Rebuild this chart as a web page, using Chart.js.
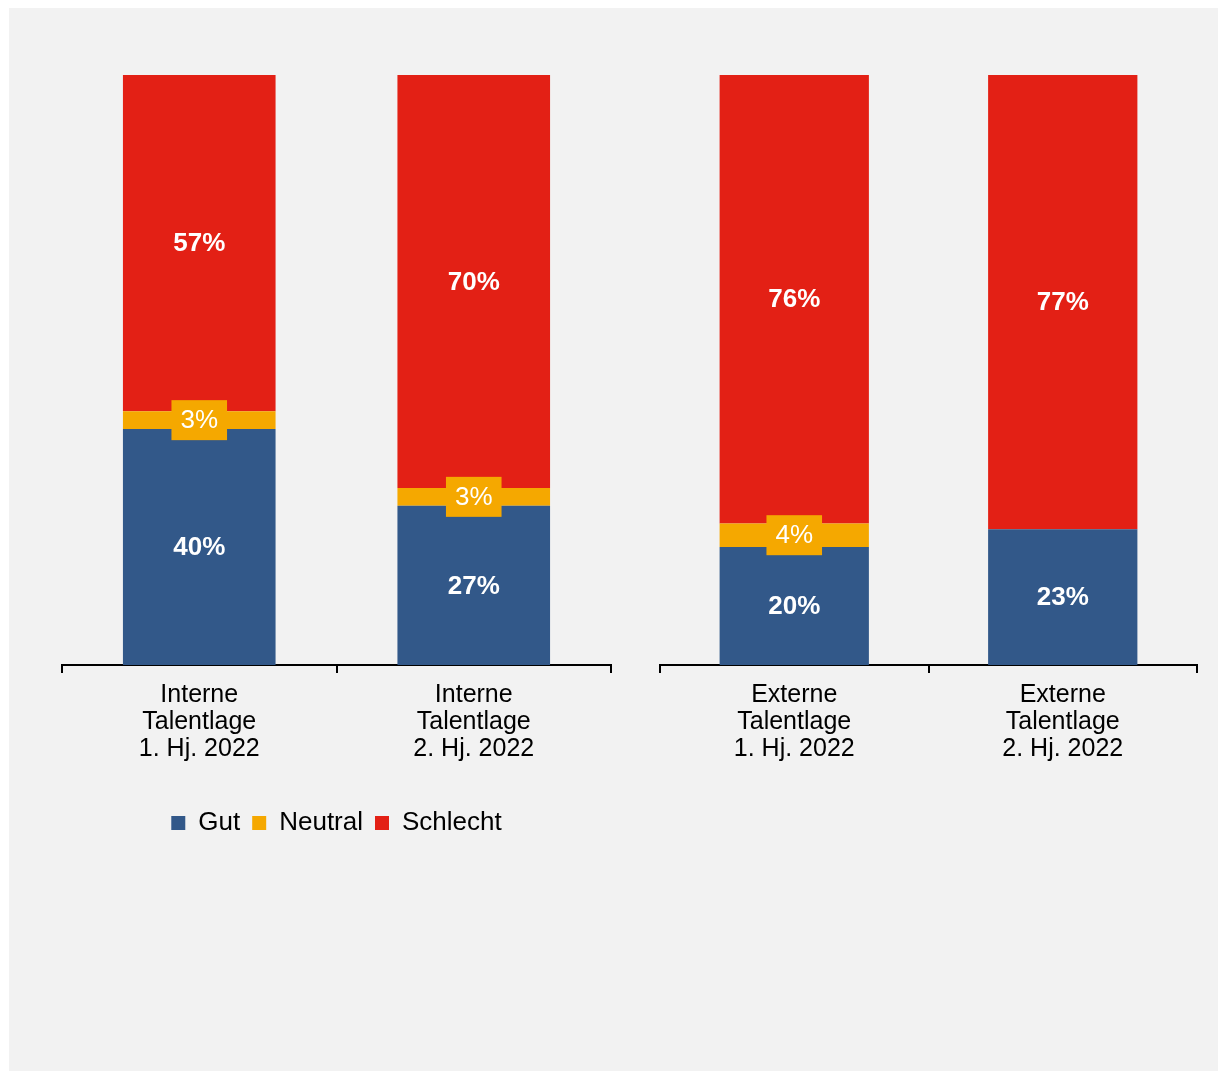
<!DOCTYPE html>
<html lang="de">
<head>
<meta charset="utf-8">
<script src="https://cdn.jsdelivr.net/npm/chart.js@4"></script>
<style>
  body { margin: 0; background: #ffffff; }
  #panel { position: absolute; left: 9px; top: 8px; width: 1209px; height: 1063px; background: #f2f2f2; }
  .wrap { position: absolute; }
  #wrapLinks { left: 52px; top: 65px; width: 569px; height: 781px; }
  #wrapRechts { left: 650px; top: 65px; width: 557px; height: 731px; }
</style>
</head>
<body>
<div id="panel"></div>
<div class="wrap" id="wrapLinks"><canvas id="chartLinks"></canvas></div>
<div class="wrap" id="wrapRechts"><canvas id="chartRechts"></canvas></div>
<script>
// Kategorien
const kategorienLinks = [['Interne', 'Talentlage', '1. Hj. 2022'], ['Interne', 'Talentlage', '2. Hj. 2022']];
const kategorienRechts = [['Externe', 'Talentlage', '1. Hj. 2022'], ['Externe', 'Talentlage', '2. Hj. 2022']];

// Anteile in Prozent
const gutLinks = [40, 27];
const neutralLinks = [3, 3];
const schlechtLinks = [57, 70];
const gutRechts = [20, 23];
const neutralRechts = [4, 0];
const schlechtRechts = [76, 77];

const farbeGut = '#325889';
const farbeNeutral = '#f5a800';
const farbeSchlecht = '#e32015';

Chart.defaults.font.family = '"Liberation Sans", Arial, sans-serif';
Chart.defaults.color = '#000000';

// Beschriftung der Segmente (Neutral mit Hintergrundkasten)
const segmentLabels = {
  id: 'segmentLabels',
  afterDatasetsDraw(chart) {
    const ctx = chart.ctx;
    ctx.save();
    ctx.textAlign = 'center';
    ctx.textBaseline = 'middle';
    chart.data.datasets.forEach((ds, i) => {
      const meta = chart.getDatasetMeta(i);
      meta.data.forEach((bar, j) => {
        const wert = ds.data[j];
        if (!wert) return;
        const text = wert + '%';
        const p = bar.getProps(['x', 'y', 'base'], true);
        const cy = (p.y + p.base) / 2;
        if (ds.label === 'Neutral') {
          ctx.font = '26px "Liberation Sans", Arial, sans-serif';
          const w = ctx.measureText(text).width + 18;
          const h = 40;
          ctx.fillStyle = farbeNeutral;
          ctx.fillRect(p.x - w / 2, cy - h / 2, w, h);
        } else {
          ctx.font = 'bold 26px "Liberation Sans", Arial, sans-serif';
        }
        ctx.fillStyle = '#ffffff';
        ctx.fillText(text, p.x, cy + 1);
      });
    });
    ctx.restore();
  }
};

function baueDatensaetze(gut, neutral, schlecht) {
  return [
    { label: 'Gut', data: gut, backgroundColor: farbeGut },
    { label: 'Neutral', data: neutral, backgroundColor: farbeNeutral },
    { label: 'Schlecht', data: schlecht, backgroundColor: farbeSchlecht }
  ];
}

function baueOptionen(mitLegende, extraHoehe) {
  return {
    responsive: true,
    maintainAspectRatio: false,
    animation: false,
    datasets: { bar: { barPercentage: 0.556, categoryPercentage: 1 } },
    layout: { padding: { left: 10, right: 10, top: 10, bottom: 0 } },
    plugins: {
      tooltip: { enabled: false },
      legend: {
        display: mitLegende,
        position: 'bottom',
        labels: { boxWidth: 14, boxHeight: 14, padding: 12, font: { size: 26 }, color: '#000000' }
      }
    },
    scales: {
      x: {
        stacked: true,
        border: { display: true, color: '#000000', width: 2 },
        grid: { offset: true, drawOnChartArea: false, drawTicks: true, tickLength: 8, color: '#000000', lineWidth: 2 },
        ticks: { padding: 9, font: { size: 25, lineHeight: 1.08 }, color: '#000000', maxRotation: 0 },
        afterFit(scale) { scale.height += extraHoehe; }
      },
      y: { stacked: true, min: 0, max: 100, display: false }
    }
  };
}

new Chart(document.getElementById('chartLinks'), {
  type: 'bar',
  data: { labels: kategorienLinks, datasets: baueDatensaetze(gutLinks, neutralLinks, schlechtLinks) },
  options: baueOptionen(true, 26),
  plugins: [segmentLabels]
});

new Chart(document.getElementById('chartRechts'), {
  type: 'bar',
  data: { labels: kategorienRechts, datasets: baueDatensaetze(gutRechts, neutralRechts, schlechtRechts) },
  options: baueOptionen(false, 24),
  plugins: [segmentLabels]
});
</script>
</body>
</html>
